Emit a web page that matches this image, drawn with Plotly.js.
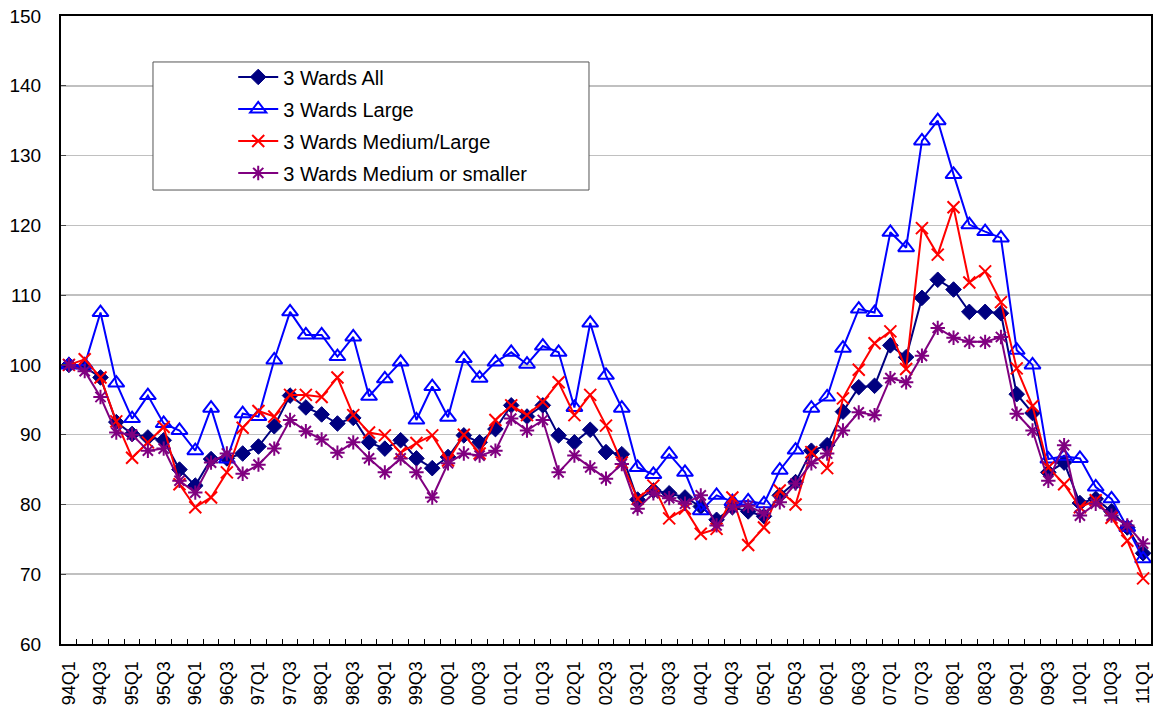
<!DOCTYPE html>
<html>
<head>
<meta charset="utf-8">
<script src="https://cdn.plot.ly/plotly-3.0.1.min.js"></script>
<style>html,body{margin:0;padding:0;background:#fff;}#chart{width:1153px;height:713px;}</style>
</head>
<body>
<div id="chart"></div>
<script>
var categories = ["94Q1","94Q2","94Q3","94Q4","95Q1","95Q2","95Q3","95Q4","96Q1","96Q2","96Q3","96Q4",
"97Q1","97Q2","97Q3","97Q4","98Q1","98Q2","98Q3","98Q4","99Q1","99Q2","99Q3","99Q4",
"00Q1","00Q2","00Q3","00Q4","01Q1","01Q2","01Q3","01Q4","02Q1","02Q2","02Q3","02Q4",
"03Q1","03Q2","03Q3","03Q4","04Q1","04Q2","04Q3","04Q4","05Q1","05Q2","05Q3","05Q4",
"06Q1","06Q2","06Q3","06Q4","07Q1","07Q2","07Q3","07Q4","08Q1","08Q2","08Q3","08Q4",
"09Q1","09Q2","09Q3","09Q4","10Q1","10Q2","10Q3","10Q4","11Q1"];

var wardsAll = [100,99.7,98.2,91.8,90.1,89.6,89.2,85.0,82.7,86.5,
86.6,87.3,88.3,91.2,95.6,93.9,92.9,91.6,92.4,88.9,
88.0,89.2,86.6,85.2,86.8,89.9,88.9,90.8,94.2,92.6,
94.2,89.9,88.9,90.7,87.5,87.2,80.7,82.0,81.6,81.0,
79.7,77.8,79.6,79.0,78.3,81.3,83.2,87.7,88.5,93.3,
96.8,97.0,102.8,101.1,109.6,112.2,110.8,107.6,107.6,107.4,
95.8,93.1,84.6,86.0,80.2,80.8,79.0,76.7,73.0];

var wardsLarge = [100,100.0,107.5,97.4,92.3,95.6,91.6,90.6,87.7,93.8,
86.5,93.0,92.6,100.7,107.6,104.3,104.3,101.2,104.0,95.5,
98.0,100.4,92.1,96.9,92.5,100.9,98.1,100.4,101.8,100.1,
102.7,101.8,93.9,106.0,98.5,93.8,85.3,84.3,87.2,84.6,
79.1,81.3,80.4,80.5,80.1,84.9,87.8,93.8,95.4,102.4,
108.0,107.5,119.0,116.8,132.1,135.0,127.3,120.1,119.1,118.2,
102.1,100.0,86.5,86.9,86.6,82.5,80.8,76.7,72.2];

var wardsMediumLarge = [100,100.8,98.2,91.9,86.7,88.9,91.1,82.9,79.6,81.0,
84.6,91.0,93.4,92.6,95.7,95.7,95.4,98.2,92.8,90.3,
89.9,87.4,88.8,89.9,86.3,90.0,87.3,92.1,94.2,92.8,
94.7,97.5,92.8,95.7,91.3,86.0,80.8,82.7,78.0,79.4,
75.8,76.5,81.0,74.2,76.7,82.0,80.0,87.5,85.2,95.2,
99.3,103.1,104.8,99.4,119.6,115.8,122.6,111.8,113.4,109.0,
99.5,94.1,85.3,82.9,79.6,80.6,78.1,74.8,69.4];

var wardsMediumSmaller = [100,99.1,95.4,90.3,90.0,87.7,88.0,83.4,81.7,86.0,
87.3,84.4,85.7,88.0,92.1,90.5,89.3,87.4,88.9,86.6,
84.6,86.6,84.6,81.0,85.9,87.3,87.0,87.7,92.3,90.6,
92.1,84.6,87.0,85.3,83.7,85.8,79.4,81.6,80.9,80.1,
81.3,77.0,79.6,79.8,78.7,80.3,83.0,85.9,87.3,90.6,
93.2,92.8,98.1,97.5,101.3,105.3,103.9,103.3,103.3,104.0,
93.0,90.6,83.4,88.5,78.4,80.1,78.4,77.0,74.4];

var seriesNames = ["3 Wards All","3 Wards Large","3 Wards Medium/Large","3 Wards Medium or smaller"];
var tickText = categories.map(function(c,i){ return i % 2 === 0 ? c : ""; });

var FONT = "Liberation Sans, Arial, sans-serif";

var traces = [
  {x: categories, y: wardsAll, name: seriesNames[0], legendgroup: "a", mode: "lines+markers",
   line: {color: "#000080", width: 2},
   marker: {symbol: "diamond", size: 12, color: "#000080", line: {color: "#000080", width: 1}}},
  {x: categories, y: wardsLarge, name: seriesNames[1], legendgroup: "b", mode: "lines+markers",
   line: {color: "#0000FF", width: 2},
   marker: {symbol: "triangle-up-open", size: 14, color: "#0000FF", line: {color: "#0000FF", width: 2}}},
  {x: categories, y: wardsMediumLarge, name: seriesNames[2], legendgroup: "c", mode: "lines+markers",
   line: {color: "#FF0000", width: 2},
   marker: {symbol: "x-thin-open", size: 12, color: "#FF0000", line: {color: "#FF0000", width: 2}}},
  {x: categories, y: wardsMediumSmaller, name: seriesNames[3], legendgroup: "d", mode: "lines+markers",
   line: {color: "#800080", width: 2},
   marker: {symbol: "asterisk-open", size: 12, color: "#800080", line: {color: "#800080", width: 2}}}
];

var layout = {
  width: 1153, height: 713,
  margin: {l: 61, r: 2, t: 16, b: 69, pad: 0},
  paper_bgcolor: "#ffffff", plot_bgcolor: "#ffffff",
  font: {family: FONT, color: "#000000", size: 18},
  showlegend: true,
  legend: {
    x: 0.158, y: 0.934, xanchor: "left", yanchor: "top",
    bgcolor: "rgba(0,0,0,0)", borderwidth: 0,
    font: {family: FONT, size: 20, color: "#000000"},
    tracegroupgap: 3, itemwidth: 40
  },
  xaxis: {
    type: "category",
    range: [-0.5, 68.5],
    tickmode: "array", tickvals: categories, ticktext: tickText,
    tickson: "boundaries",
    ticks: "inside", ticklen: 5, tickcolor: "#000000", tickwidth: 1,
    tickangle: -90,
    tickfont: {family: FONT, size: 18, color: "#000000"},
    showgrid: false, zeroline: false,
    showline: true, linecolor: "#000000", linewidth: 2, mirror: true,
    ticklabelstandoff: 8
  },
  yaxis: {
    range: [60, 150], dtick: 10, tick0: 60,
    ticks: "inside", ticklen: 5, tickcolor: "#444444", tickwidth: 1,
    tickfont: {family: FONT, size: 19, color: "#000000"},
    showgrid: true, gridcolor: "#c0c0c0", gridwidth: 1.5,
    zeroline: false,
    showline: true, linecolor: "#000000", linewidth: 2, mirror: true,
    ticklabelstandoff: 14
  },
  shapes: [{
    type: "rect", xref: "paper", yref: "paper",
    x0: 0.0844, x1: 0.4844, y0: 0.7229, y1: 0.9268,
    line: {color: "#555555", width: 1}, fillcolor: "#ffffff", layer: "above"
  }]
};

Plotly.newPlot("chart", traces, layout, {displayModeBar: false, staticPlot: true});
</script>
</body>
</html>
